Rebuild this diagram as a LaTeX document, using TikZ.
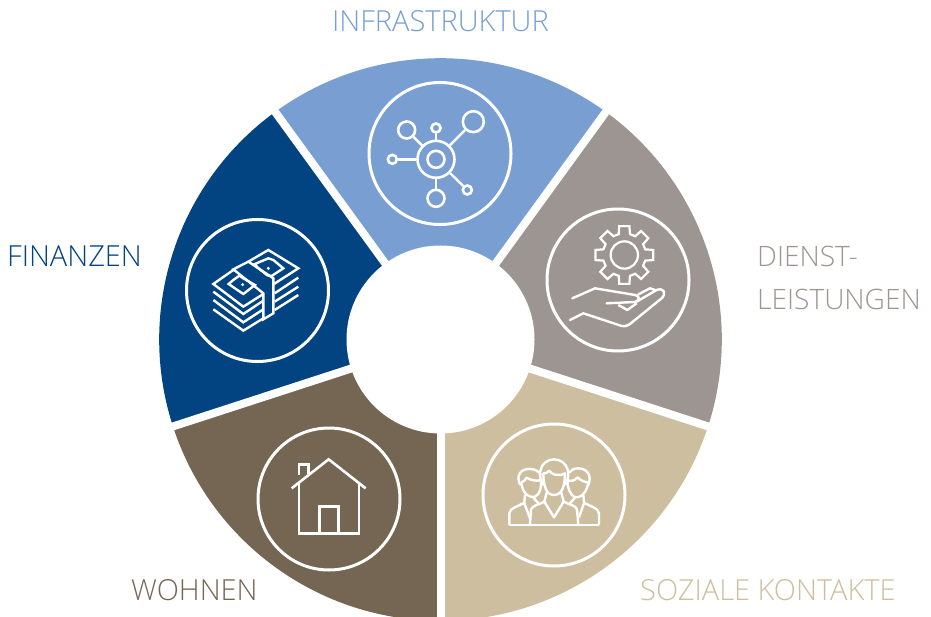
\documentclass[tikz,border=0pt]{standalone}
\usepackage{fontspec}
\setmainfont{Open Sans Light}
\definecolor{cblue}{HTML}{789ED2}
\definecolor{cnavy}{HTML}{024381}
\definecolor{cgrey}{HTML}{9D9591}
\definecolor{cbeige}{HTML}{CDBE9F}
\definecolor{cbrown}{HTML}{756553}
\tikzset{
  sep/.style={white,line width=8pt},
  ring/.style={draw=white,line width=3pt,circle,inner sep=0pt,minimum size=142pt},
  ico/.style={draw=white,line width=2.4pt,line join=miter,fill=none},
  sat/.style={draw=white,line width=2.6pt,circle,inner sep=0pt},
  lab/.style={anchor=base west,inner sep=0pt,font=\fontsize{29}{32}\selectfont},
  labs/.style={lab,font=\fontsize{28.1}{32}\selectfont},
}
\newcommand{\wedgeseg}[3]{\fill[#1] (440.5,339.5) -- ++({281.3*cos(#2)},{-281.3*sin(#2)}) arc[start angle=#2,end angle=#3,x radius=281.3,y radius=-281.3] -- cycle;}
\begin{document}
\begin{tikzpicture}[x=1pt,y=-1pt]
\useasboundingbox (0,0) rectangle (931,617);
\begin{scope}
\clip (0,0) rectangle (931,617);
\wedgeseg{cblue}{54}{126}
\wedgeseg{cnavy}{126}{198}
\wedgeseg{cbrown}{198}{270}
\wedgeseg{cbeige}{270}{342}
\wedgeseg{cgrey}{342}{414}
\coordinate (c) at (440.5,339.5);
\foreach \a in {54,126,198,270,342}
  \draw[sep] (c) -- ++({300*cos(\a)},{-300*sin(\a)});
\node[circle,fill=white,inner sep=0pt,minimum size=188pt] (hub) at (c) {};
\end{scope}
% rings
\node[ring] (r1) at (440,153.5) {};
\node[ring] (r2) at (257.5,290.5) {};
\node[ring] (r3) at (618,280) {};
\node[ring] (r4) at (554,495) {};
\node[ring] (r5) at (329,499) {};
% network icon
\begin{scope}[shift={(360pt,-80pt)},x=0.3333pt,y=-0.3333pt]
\node[sat,minimum size=37pt] (n0) at (228,238) {};
\node[sat,minimum size=17pt] (n00) at (228,238) {};
\node[sat,minimum size=17pt] (n1) at (140,150) {};
\node[sat,minimum size=9pt] (n2) at (228,144) {};
\node[sat,minimum size=21pt] (n3) at (340,125) {};
\node[sat,minimum size=9pt] (n4) at (97,238) {};
\node[sat,minimum size=9pt] (n5) at (322,330) {};
\node[sat,minimum size=17pt] (n6) at (228,355) {};
\foreach \n in {n1,n2,n3,n4,n5,n6} \draw[white,line width=2.4pt] (n0) -- (\n);
\end{scope}
% money icon
\begin{scope}[shift={(180pt,-210pt)},x=0.3333pt,y=-0.3333pt]
\draw[ico] (160,180) -- (100,222) -- (190,290) -- (250,252);
\draw[ico] (146,222) -- (160,210) -- (178,197) -- (190,205) -- (225,225) -- (212,235) -- (190,252) -- (172,240) -- cycle;
\fill[white] (188,224) circle (5);
\draw[ico] (205,155) -- (265,120) -- (355,175) -- (282,222);
\draw[ico] (225,162) -- (265,145) -- (280,150) -- (310,175) -- (275,198) -- (262,196) -- (232,172) -- cycle;
\fill[white] (265,175) circle (5);
\draw[ico] (160,178) -- (205,155) -- (280,205) -- (280,310) -- (250,328) -- (250,250) -- cycle;
\draw[ico] (100,245) -- (190,312) -- (250,272);
\draw[ico] (100,270) -- (190,337) -- (250,298);
\draw[ico] (100,298) -- (190,362) -- (250,325);
\draw[ico] (284,250) -- (355,203);
\draw[ico] (284,275) -- (355,230);
\draw[ico] (284,300) -- (355,255);
\end{scope}
% gear and hand icon
\begin{scope}[shift={(540pt,-200pt)},x=0.3333pt,y=-0.3333pt]
\draw[white,line width=2.2pt] (253,165) circle (41);
\draw[ico,line width=2.2pt]
  \foreach \i in {0,...,7} {
    \ifnum\i=0 ({253+65*cos(\i*45+90-15)},{165-65*sin(\i*45+90-15)}) \else -- ({253+65*cos(\i*45+90-15)},{165-65*sin(\i*45+90-15)}) \fi
    -- ({253+88*cos(\i*45+90-10)},{165-88*sin(\i*45+90-10)})
    -- ({253+88*cos(\i*45+90+10)},{165-88*sin(\i*45+90+10)})
    -- ({253+65*cos(\i*45+90+15)},{165-65*sin(\i*45+90+15)})
  } -- cycle;
\draw[ico,line cap=round,line join=round] (97,295) -- (165,265) -- (285,285) .. controls (300,288) and (300,300) .. (285,306) -- (200,310);
\draw[ico,line cap=round,line join=round] (90,360) -- (130,340) -- (245,378) .. controls (258,380) and (265,376) .. (275,368) -- (365,295) .. controls (380,280) and (372,262) .. (350,270) -- (290,305);
\draw[ico,line cap=round,line join=round] (295,283) -- (330,265) -- (345,270);
\draw[ico,line join=round] (235,315) -- (262,330) -- (290,310);
\end{scope}
% people icon
\begin{scope}[shift={(475pt,-430pt)},x=0.3333pt,y=-0.3333pt]
\draw[ico,line join=round] (103,285) -- (372,285);
% centre
\draw[ico,line join=round] (205,130) .. controls (205,170) and (215,195) .. (237,195) .. controls (260,195) and (270,170) .. (270,130) .. controls (250,140) and (232,135) .. (222,122) .. controls (218,130) and (212,130) .. (205,130);
\draw[ico,line join=round] (205,165) .. controls (185,135) and (195,90) .. (237,88) .. controls (280,90) and (290,135) .. (270,165);
\draw[ico,line join=round] (165,285) -- (168,238) .. controls (175,225) and (190,225) .. (208,215) -- (216,185);
\draw[ico,line join=round] (310,285) -- (306,238) .. controls (300,225) and (285,225) .. (266,215) -- (258,185);
\draw[ico,line join=round] (208,215) -- (237,262) -- (266,215);
% left
\draw[ico,line join=round] (138,158) .. controls (145,195) and (165,205) .. (180,200) .. controls (195,192) and (200,175) .. (198,150) .. controls (185,155) and (165,150) .. (155,143) .. controls (152,150) and (145,155) .. (138,158);
\draw[ico,line join=round] (136,165) .. controls (120,135) and (140,115) .. (165,117) .. controls (180,117) and (192,125) .. (198,135);
\draw[ico,line join=round] (103,285) -- (103,250) .. controls (105,232) and (130,230) .. (148,218) -- (150,195);
\draw[ico,line join=round] (148,220) -- (165,265);
\draw[ico,line join=round] (175,203) -- (190,220);
% right
\draw[ico,line join=round] (277,150) .. controls (290,157) and (300,150) .. (308,142) .. controls (315,150) and (325,155) .. (340,158) .. controls (335,190) and (315,205) .. (300,202) .. controls (285,195) and (278,175) .. (277,150);
\draw[ico,line join=round] (340,165) .. controls (352,135) and (335,115) .. (310,115) .. controls (297,115) and (288,120) .. (282,128);
\draw[ico,line join=round] (372,285) -- (372,250) .. controls (370,232) and (345,230) .. (327,218) -- (325,195);
\draw[ico,line join=round] (327,220) -- (312,262);
\draw[ico,line join=round] (300,203) -- (285,220);
\end{scope}
% house icon
\begin{scope}[shift={(250pt,-430pt)},x=0.3333pt,y=-0.3333pt]
\draw[ico,line width=2.6pt] (125,175) -- (236,88) -- (347,175);
\draw[ico,line width=2.6pt] (147,160) -- (147,310) -- (327,310) -- (327,160);
\draw[ico,line width=2.6pt] (147,135) -- (147,104) -- (175,104) -- (175,132);
\draw[ico,line width=2.6pt] (208,310) -- (208,229) -- (265,229) -- (265,310);
\end{scope}
% labels
\node[lab,text=cblue,anchor=base] (t1) at (440.5,32) {INFRASTRUKTUR};
\node[lab,text=cnavy] (t2) at (7,267) {FINANZEN};
\node[labs,text=cgrey] (t3) at (757,267) {DIENST-};
\node[labs,text=cgrey] (t4) at (757,309) {LEISTUNGEN};
\node[lab,text=cbrown] (t5) at (131,600) {WOHNEN};
\node[lab,text=cbeige] (t6) at (640,600) {SOZIALE KONTAKTE};
\end{tikzpicture}
\end{document}
